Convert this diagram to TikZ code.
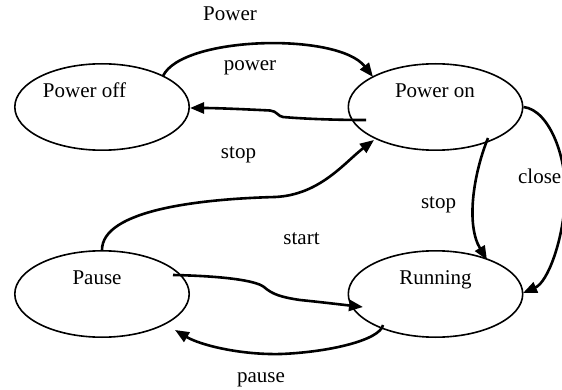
\documentclass[tikz,border=0pt]{standalone}
\usepackage{fontspec}
\setmainfont{Liberation Serif}
\usetikzlibrary{shapes.geometric,arrows.meta}
\tikzset{
  state/.style={ellipse,draw,line width=1.6pt,inner sep=0pt,
    minimum width=174.4pt,minimum height=86.4pt},
  txt/.style={inner sep=0pt,anchor=base,font=\fontsize{21}{25}\selectfont},
  edge/.style={line width=2.6pt,-{Triangle[length=14pt,width=11pt]}},
}
\begin{document}
\begin{tikzpicture}[x=1pt,y=-1pt]
\useasboundingbox (0,0) rectangle (562,390);

% states
\node[state] (off) at (102,107) {};
\node[state] (on) at (435.5,107) {};
\node[state] (pause) at (102,294) {};
\node[state] (run) at (435.5,294) {};

% state names
\node[txt] (toff) at (84.5,98) {Power off};
\node[txt] (ton) at (435,98) {Power on};
\node[txt] (tpause) at (97,284) {Pause};
\node[txt] (trun) at (435.5,284) {Running};

% transition labels
\node[txt] (lPower) at (230,20.7) {Power};
\node[txt] (lpower) at (250,70.5) {power};
\node[txt] (lstop1) at (238.5,159) {stop};
\node[txt,anchor=base east] (lclose) at (561.5,184) {close};
\node[txt] (lstop2) at (438.5,208) {stop};
\node[txt] (lstart) at (301.5,244) {start};
\node[txt] (lpause) at (261,382) {pause};

% Power off -> Power on
\draw[edge] ([shift={(61,-31)}]off.center)
  .. controls (182,36) and (338,32) .. ([shift={(-62.5,-30)}]on.center);

% Power on -> Power off
\draw[edge] ([shift={(-69.5,13)}]on.center)
  .. controls (330,120) and (300,118.5) .. (283,117)
  .. controls (278,116.5) and (277,111) .. (270,110.5)
  .. controls (240,109) and (215,108) .. ([shift={(0,1)}]off.east);

% Pause -> Power on
\draw[edge] (pause.north)
  .. controls (102,210) and (200,199) .. (275,197)
  .. controls (320,195) and (345,162) .. ([shift={(-61.5,33)}]on.center);

% Pause -> Running
\draw[edge] ([shift={(71,-19)}]pause.center)
  .. controls (220,276) and (255,280) .. (264,287)
  .. controls (272,294) and (280,297) .. (300,300)
  .. controls (320,302) and (345,305) .. ([shift={(-72.5,13)}]run.center);

% Running -> Pause
\draw[edge] ([shift={(-52.5,31)}]run.center)
  .. controls (380,340) and (330,352) .. (281,354)
  .. controls (240,355) and (200,345) .. ([shift={(73,36)}]pause.center);

% Power on -> Running (stop)
\draw[edge] ([shift={(52.5,31)}]on.center)
  .. controls (473,175) and (466,225) .. ([shift={(51.5,-34)}]run.center);

% Power on -> Running (close)
\draw[edge] (on.east)
  .. controls (550,110) and (568,160) .. (565,200)
  .. controls (563,240) and (548,282) .. ([shift={(87.5,-1)}]run.center);
\end{tikzpicture}
\end{document}
